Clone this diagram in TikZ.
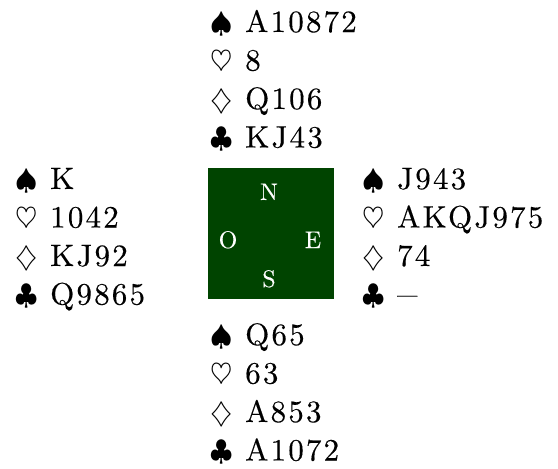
\documentclass[tikz,border=0pt]{standalone}
\usepackage{graphicx}
\usepackage{fontspec}
\setmainfont{lmroman10-regular}[Extension=.otf, LetterSpace=7, FakeBold=0.3]
\newfontfamily\seatfont{lmroman10-regular}[Extension=.otf, FakeBold=0.2]
\definecolor{feltgreen}{RGB}{0,68,0}
\newcommand{\suitline}[2]{\makebox[35pt][l]{\scalebox{1.15}{$#1$}}#2}
\tikzset{
  handline/.style={anchor=base west, inner sep=0pt, font=\fontsize{31}{38.5}\selectfont},
  seat/.style={anchor=base, inner sep=0pt, text=white, font=\seatfont\fontsize{24}{24}\selectfont},
  board/.style={fill=feltgreen, draw=feltgreen, minimum width=125pt, minimum height=130pt, inner sep=0pt}
}
\begin{document}
\begin{tikzpicture}[x=1pt,y=-1pt]
\useasboundingbox (0,0) rectangle (558,469);
% North
\node[handline] (n1) at (210,32)  {\suitline{\spadesuit}{A10872}};
\node[handline] (n2) at (210,70.5){\suitline{\heartsuit}{8}};
\node[handline] (n3) at (210,109) {\suitline{\diamondsuit}{Q106}};
\node[handline] (n4) at (210,147.5){\suitline{\clubsuit}{KJ43}};
% West
\node[handline] (w1) at (15,189)  {\suitline{\spadesuit}{K}};
\node[handline] (w2) at (15,227.5){\suitline{\heartsuit}{1042}};
\node[handline] (w3) at (15,266)  {\suitline{\diamondsuit}{KJ92}};
\node[handline] (w4) at (15,304.5){\suitline{\clubsuit}{Q9865}};
% East
\node[handline] (e1) at (362,189)  {\suitline{\spadesuit}{J943}};
\node[handline] (e2) at (362,227.5){\suitline{\heartsuit}{AKQJ975}};
\node[handline] (e3) at (362,266)  {\suitline{\diamondsuit}{74}};
\node[handline] (e4) at (362,304.5){\suitline{\clubsuit}{\scalebox{1.3}[1]{–}}};
% South
\node[handline] (s1) at (210,345)  {\suitline{\spadesuit}{Q65}};
\node[handline] (s2) at (210,383.5){\suitline{\heartsuit}{63}};
\node[handline] (s3) at (210,422)  {\suitline{\diamondsuit}{A853}};
\node[handline] (s4) at (210,460.5){\suitline{\clubsuit}{A1072}};
% Board
\node[board] (table) at (270.5,233) {};
\node[seat] (N) at (269,200) {N};
\node[seat] (O) at (228,248) {O};
\node[seat] (E) at (313,248) {E};
\node[seat] (S) at (269,287) {S};
\end{tikzpicture}
\end{document}
